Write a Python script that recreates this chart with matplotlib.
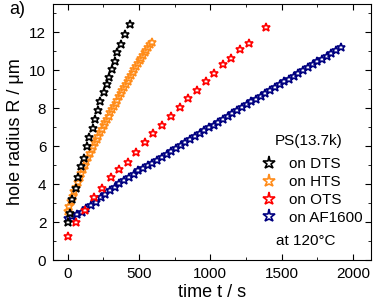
import numpy as np
import matplotlib.pyplot as plt
from matplotlib.ticker import MultipleLocator

plt.rcParams['font.family'] = ['Liberation Sans', 'DejaVu Sans']

# hole radius vs time, PS(13.7k) at 120 C
t_dts = [0, 14, 33, 56, 74, 93, 114, 135, 152, 175, 193, 210, 230, 252, 273,
         293, 312, 330, 348, 372, 400, 434]
r_dts = [2.0, 2.5, 3.2, 3.8, 4.4, 4.95, 5.4, 6.0, 6.5, 6.96, 7.45, 7.9, 8.37,
         8.84, 9.28, 9.67, 10.07, 10.5, 10.95, 11.4, 11.9, 12.46]

t_hts = [0, 12, 24, 36, 48, 60, 72, 84, 96, 108, 120, 132, 144, 156, 168, 180,
         192, 204, 216, 228, 240, 252, 264, 276, 288, 300, 312, 324, 336, 348,
         360, 372, 384, 396, 408, 420, 432, 444, 456, 468, 480, 492, 504, 516,
         528, 540, 552, 564, 576, 588]
r_hts = [2.60, 2.86, 3.12, 3.37, 3.62, 3.87, 4.12, 4.38, 4.60, 4.82, 5.03, 5.23,
         5.43, 5.63, 5.83, 6.02, 6.20, 6.38, 6.56, 6.74, 6.92, 7.10, 7.27, 7.44,
         7.61, 7.78, 7.95, 8.12, 8.29, 8.46, 8.63, 8.80, 8.97, 9.14, 9.30, 9.46,
         9.62, 9.78, 9.93, 10.08, 10.23, 10.38, 10.53, 10.67, 10.81, 10.95,
         11.09, 11.23, 11.37, 11.51]

t_ots = [0, 61, 121, 184, 242, 305, 363, 423, 481, 539, 600, 662, 725, 786, 844,
         906, 967, 1025, 1088, 1146, 1209, 1269, 1393]
r_ots = [1.26, 1.98, 2.63, 3.33, 3.8, 4.38, 4.82, 5.17, 5.7, 6.23, 6.72, 7.14,
         7.6, 8.07, 8.56, 8.98, 9.44, 9.86, 10.33, 10.67, 11.1, 11.46, 12.28]

t_af = [0, 33, 66, 99, 132, 165, 198, 231, 264, 297, 330, 363, 396, 429, 462,
        495, 528, 561, 594, 627, 660, 693, 726, 759, 792, 825, 858, 891, 924,
        957, 990, 1023, 1056, 1089, 1122, 1155, 1188, 1221, 1254, 1287, 1320,
        1353, 1386, 1419, 1452, 1485, 1518, 1551, 1584, 1617, 1650, 1683, 1716,
        1749, 1782, 1815, 1848, 1881, 1914]
r_af = [2.20, 2.30, 2.42, 2.55, 2.72, 2.90, 3.08, 3.30, 3.50, 3.68, 3.86, 4.04,
        4.22, 4.40, 4.56, 4.72, 4.86, 4.99, 5.12, 5.27, 5.42, 5.57, 5.74, 5.90,
        6.06, 6.22, 6.37, 6.53, 6.69, 6.84, 6.99, 7.14, 7.29, 7.45, 7.60, 7.75,
        7.90, 8.05, 8.20, 8.36, 8.51, 8.66, 8.81, 8.96, 9.12, 9.27, 9.42, 9.57,
        9.72, 9.87, 10.02, 10.17, 10.32, 10.47, 10.62, 10.77, 10.92, 11.07, 11.22]

fig = plt.figure(figsize=(3.74, 3.05), dpi=100)
ax = fig.add_axes([0.1425, 0.1475, 0.8495, 0.8395])

st = dict(ls='none', marker='*', ms=6.3, mew=1.2, mfc='white')
h_af, = ax.plot(t_af, r_af, color='#000080', label='on AF1600', **st)
h_ots, = ax.plot(t_ots, r_ots, color='#ff0000', label='on OTS', **st)
h_hts, = ax.plot(t_hts, r_hts, color='#ff8c1a', label='on HTS', **st)
h_dts, = ax.plot(t_dts, r_dts, color='black', label='on DTS', **st)

ax.set_xlim(-100, 2125)
ax.set_ylim(0, 13.5)
ax.xaxis.set_major_locator(MultipleLocator(500))
ax.xaxis.set_minor_locator(MultipleLocator(250))
ax.yaxis.set_major_locator(MultipleLocator(2))
ax.yaxis.set_minor_locator(MultipleLocator(1))
ax.tick_params(which='both', direction='in', top=True, right=True,
               labelsize=11, pad=5)
ax.tick_params(which='major', length=4)
ax.tick_params(which='minor', length=2.5)

ax.set_xlabel('time t / s', fontsize=13, labelpad=2)
ax.set_ylabel('hole radius R / μm', fontsize=13, labelpad=4)

leg = ax.legend(handles=[h_dts, h_hts, h_ots, h_af],
                loc='upper left', bbox_to_anchor=(0.611, 0.455), frameon=False,
                fontsize=11, numpoints=1, handlelength=1,
                handletextpad=0.8, labelspacing=0.25, markerscale=1.5)
ax.text(0.698, 0.465, 'PS(13.7k)', transform=ax.transAxes, fontsize=11,
        va='center')
ax.text(0.70, 0.074, 'at 120°C', transform=ax.transAxes, fontsize=11,
        va='center')
fig.text(0.025, 0.955, 'a)', fontsize=13)

fig.savefig('out.png', dpi=100)
